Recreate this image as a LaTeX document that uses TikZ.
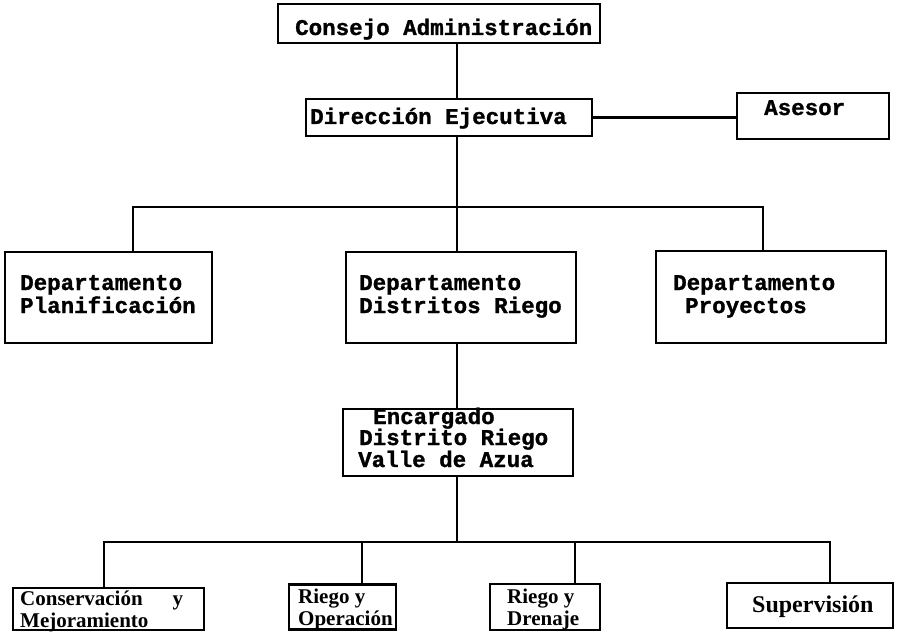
\documentclass[tikz,border=0pt]{standalone}
\usepackage{fontspec}
\newfontfamily\typew{Liberation Mono}[BoldFeatures={FakeBold=1.2}]
\newfontfamily\lowserif{Liberation Serif}
\begin{document}
\begin{tikzpicture}[x=1pt,y=-1pt,
  orgbox/.style={draw, line width=2.9pt, rectangle, inner sep=0pt},
  link/.style={line width=2.6pt},
  tw/.style={inner sep=0pt, anchor=base west, text height=15pt, text depth=4pt,
    font=\typew\bfseries\fontsize{22.5}{22.5}\selectfont},
  ls/.style={inner sep=0pt, anchor=base west, text height=13pt, text depth=3pt,
    font=\lowserif\bfseries\fontsize{21}{21}\selectfont}]
\useasboundingbox (0,0) rectangle (901,631);

% boxes
\node[orgbox, minimum width=322pt, minimum height=39pt] (cons) at (439,23.5) {};
\node[orgbox, minimum width=286pt, minimum height=37pt] (dir) at (449,117.5) {};
\node[orgbox, minimum width=152pt, minimum height=46pt] (ases) at (813,116) {};
\node[orgbox, minimum width=207pt, minimum height=91pt] (plan) at (108.5,297.5) {};
\node[orgbox, minimum width=230pt, minimum height=91pt] (dist) at (461,297.5) {};
\node[orgbox, minimum width=230pt, minimum height=92pt] (proy) at (771,297) {};
\node[orgbox, minimum width=230pt, minimum height=67pt] (enc) at (458,442.5) {};
\node[orgbox, minimum width=191pt, minimum height=42pt] (conserv) at (108.5,609) {};
\node[orgbox, minimum width=107pt, minimum height=45pt] (rop) at (342.5,607) {};
\node[orgbox, minimum width=110pt, minimum height=46pt] (rdr) at (545,607) {};
\node[orgbox, minimum width=166pt, minimum height=45pt] (sup) at (810,605.5) {};

% labels
\node[tw] (consT) at (295,35) {Consejo Administración};
\node[tw] (dirT) at (310,124) {Dirección Ejecutiva};
\node[tw] (asesT) at (764,115) {Asesor};
\node[tw] (planT1) at (20,290) {Departamento};
\node[tw] (planT2) at (20,313) {Planificación};
\node[tw] (distT1) at (359,290) {Departamento};
\node[tw] (distT2) at (359,313) {Distritos Riego};
\node[tw] (proyT1) at (673,290) {Departamento};
\node[tw] (proyT2) at (685,313) {Proyectos};
\node[tw] (encT1) at (373,424) {Encargado};
\node[tw] (encT2) at (359,445) {Distrito Riego};
\node[tw] (encT3) at (358,467) {Valle de Azua};
\node[ls] (conservT1) at (20,605) {Conservación\hspace{30pt}y};
\node[ls] (conservT2) at (20,627) {Mejoramiento};
\node[ls] (ropT1) at (298,603) {Riego y};
\node[ls] (ropT2) at (298,625) {Operación};
\node[ls] (rdrT1) at (507,603) {Riego y};
\node[ls] (rdrT2) at (507,625) {Drenaje};
\node[ls,font=\lowserif\bfseries\fontsize{24}{24}\selectfont] (supT) at (752,612) {Supervisión};

% connector guides
\coordinate (spine) at (457,0);
\coordinate (busL) at (133,207);
\coordinate (busR) at (763,207);
\coordinate (low1) at (104,542);
\coordinate (low2) at (362,542);
\coordinate (low3) at (575,542);
\coordinate (low4) at (830,542);

% connectors
\draw[link] (spine |- cons.south) -- (spine |- dir.north);
\draw[link] (dir.east) -- (ases.west |- dir.east);
\draw[link] (spine |- dir.south) -- (spine |- busL);
\draw[link] (busL |- plan.north) -- (busL) -- (busR) -- (busR |- proy.north);
\draw[link] (spine |- busL) -- (spine |- dist.north);
\draw[link] (spine |- dist.south) -- (spine |- enc.north);
\draw[link] (spine |- enc.south) -- (spine |- low1);
\draw[link] (low1 |- conserv.north) -- (low1) -- (low4) -- (low4 |- sup.north);
\draw[link] (low2) -- (low2 |- rop.north);
\draw[link] (low3) -- (low3 |- rdr.north);
\end{tikzpicture}
\end{document}
